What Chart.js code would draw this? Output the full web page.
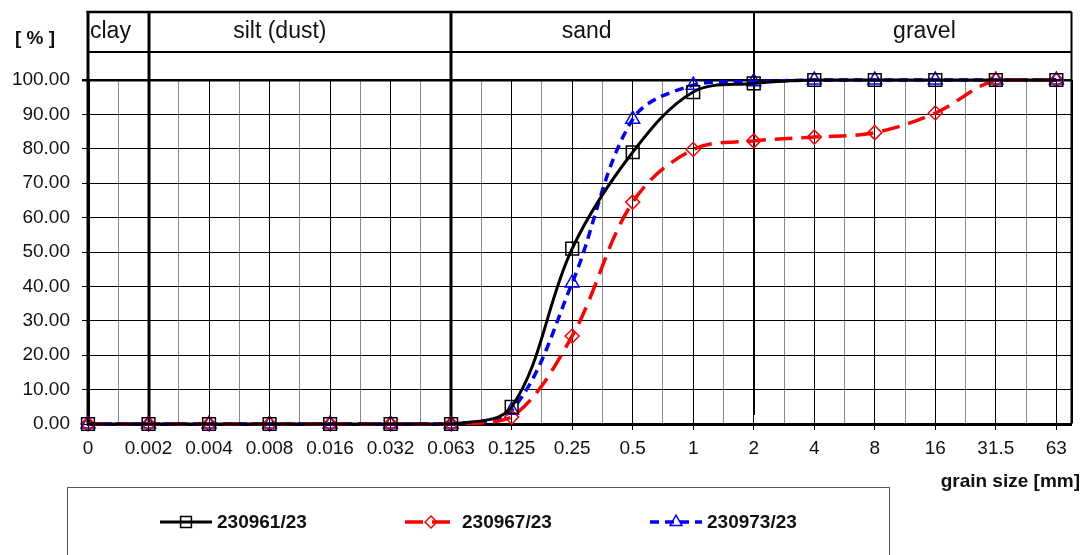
<!DOCTYPE html>
<html>
<head>
<meta charset="utf-8">
<script src="https://cdn.jsdelivr.net/npm/chart.js@4/dist/chart.umd.min.js"></script>
<style>
  html, body { margin: 0; padding: 0; background: #fff; }
</style>
</head>
<body>
<canvas id="chart" width="1082" height="555"></canvas>
<script>
// grain size classes (mm), drawn evenly spaced like the sieve sheet
const grainSizes = ['0', '0.002', '0.004', '0.008', '0.016', '0.032', '0.063', '0.125', '0.25', '0.5', '1', '2', '4', '8', '16', '31.5', '63']

// passing [%] per sample
const sample61 = [0, 0, 0, 0, 0, 0, 0, 5, 51, 79, 96.5, 99, 100, 100, 100, 100, 100]
const sample67 = [0, 0, 0, 0, 0, 0, 0, 2, 25.6, 64.5, 79.8, 82.3, 83.4, 84.7, 90.4, 100, 100]
const sample73 = [0, 0, 0, 0, 0, 0, 0, 4, 41, 88.6, 98.5, 99.5, 100, 100, 100, 100, 100]
const sampleNames = ['230961/23', '230967/23', '230973/23']

// soil fractions and the grain-size index where each starts
const fractions = ['clay', 'silt (dust)', 'sand', 'gravel']
const fractionStart = [0, 1, 6, 11]

const yTicks = [0, 10, 20, 30, 40, 50, 60, 70, 80, 90, 100]

const FONT = '"Liberation Sans", Arial, Helvetica, sans-serif'
Chart.defaults.font.family = FONT
Chart.defaults.color = '#111'

const toPoints = (values) => values.map((v, i) => ({ x: i, y: v }))

const frame = {
  id: 'frame',
  beforeDatasetsDraw (chart) {
    const { ctx, chartArea: a, scales: { x } } = chart
    const top = 12
    const mid = 52
    ctx.save()
    ctx.strokeStyle = '#000'

    // header box
    ctx.lineWidth = 2.5
    ctx.beginPath()
    ctx.moveTo(a.left - 1.5, top); ctx.lineTo(a.right, top)
    ctx.stroke()
    ctx.lineWidth = 2
    ctx.beginPath()
    ctx.moveTo(a.left, mid); ctx.lineTo(a.right, mid)
    ctx.moveTo(a.right, top); ctx.lineTo(a.right, a.bottom)
    ctx.stroke()

    // fraction separators
    fractionStart.forEach((idx, i) => {
      const px = Math.round(x.getPixelForValue(idx))
      ctx.lineWidth = i === 3 ? 2 : 3
      ctx.beginPath()
      ctx.moveTo(px, top - 1)
      ctx.lineTo(px, i === 3 ? a.bottom - 9 : a.bottom)
      ctx.stroke()
    })
    ctx.restore()
  },
  afterDraw (chart) {
    const { ctx, chartArea: a, scales: { x } } = chart
    ctx.save()
    ctx.fillStyle = '#111'
    ctx.textBaseline = 'middle'

    // fraction names
    const labelAt = [null, 3.17, 8.24, 13.82]
    ctx.font = '23px ' + FONT
    fractions.forEach((name, i) => {
      if (labelAt[i] === null) {
        ctx.textAlign = 'left'
        ctx.fillText(name, a.left + 2, 32)
      } else {
        ctx.textAlign = 'center'
        ctx.fillText(name, x.getPixelForValue(labelAt[i]), 32)
      }
    })

    // axis titles
    ctx.font = 'bold 19px ' + FONT
    ctx.textAlign = 'left'
    ctx.fillText('[ % ]', 15, 39)
    ctx.textAlign = 'right'
    ctx.fillText('grain size [mm]', 1080, 482)

    // legend box
    ctx.strokeStyle = '#555'
    ctx.lineWidth = 1
    ctx.strokeRect(67.5, 487.5, 822, 90)

    const legendX = [160, 405, 650]
    chart.data.datasets.forEach((ds, i) => {
      const x0 = legendX[i]
      const y0 = 522
      ctx.strokeStyle = ds.borderColor
      ctx.lineWidth = ds.borderWidth
      ctx.setLineDash(ds.borderDash || [])
      ctx.beginPath()
      ctx.moveTo(x0, y0); ctx.lineTo(x0 + 52, y0)
      ctx.stroke()
      ctx.setLineDash([])
      ctx.fillStyle = 'rgba(0,0,0,0)'
      ctx.lineWidth = ds.pointBorderWidth
      Chart.helpers.drawPoint(ctx, { pointStyle: ds.pointStyle, radius: ds.pointRadius * 0.85, borderWidth: ds.pointBorderWidth, rotation: 0 }, x0 + 26, y0)
      ctx.fillStyle = '#111'
      ctx.textAlign = 'left'
      ctx.fillText(ds.label, x0 + 57, y0 + 1)
    })
    ctx.restore()
  }
}

const lastIdx = grainSizes.length - 1
const xMax = lastIdx + 0.25

new Chart(document.getElementById('chart').getContext('2d'), {
  type: 'line',
  data: {
    datasets: [
      {
        label: sampleNames[0],
        data: toPoints(sample61),
        borderColor: '#000',
        borderWidth: 3,
        pointStyle: 'rect',
        pointRadius: 9,
        pointBorderColor: '#000',
        pointBackgroundColor: 'rgba(0,0,0,0)',
        pointBorderWidth: 1.5,
        tension: 0.35,
        clip: false
      },
      {
        label: sampleNames[1],
        data: toPoints(sample67),
        borderColor: '#ff0000',
        borderWidth: 3.5,
        borderDash: [18, 9],
        pointStyle: 'rectRot',
        pointRadius: 7,
        pointBorderColor: '#ff0000',
        pointBackgroundColor: 'rgba(0,0,0,0)',
        pointBorderWidth: 1.5,
        tension: 0.35,
        clip: false
      },
      {
        label: sampleNames[2],
        data: toPoints(sample73),
        borderColor: '#0000ff',
        borderWidth: 3.5,
        borderDash: [9, 6],
        pointStyle: 'triangle',
        pointRadius: 8,
        pointBorderColor: '#0000ff',
        pointBackgroundColor: 'rgba(0,0,0,0)',
        pointBorderWidth: 1.5,
        tension: 0.35,
        clip: false
      }
    ]
  },
  options: {
    responsive: false,
    animation: false,
    layout: { padding: { top: 80, right: 6, bottom: 91, left: 0 } },
    plugins: {
      legend: { display: false },
      tooltip: { enabled: false }
    },
    scales: {
      x: {
        type: 'linear',
        min: 0,
        max: xMax,
        afterBuildTicks: (s) => {
          const ticks = []
          for (let v = 0; v <= lastIdx; v += 0.5) ticks.push({ value: v })
          ticks.push({ value: xMax })
          s.ticks = ticks
        },
        afterFit: (s) => { s.height = 40 },
        grid: {
          color: (c) => Number.isInteger(c.tick.value) || c.tick.value === xMax ? '#000' : '#8a8a8a',
          tickColor: (c) => Number.isInteger(c.tick.value) ? '#000' : 'rgba(0,0,0,0)',
          tickLength: 6,
          lineWidth: (c) => c.tick.value === xMax ? 2 : 1
        },
        border: { color: '#000', width: 3 },
        ticks: {
          autoSkip: false,
          maxRotation: 0,
          padding: 7,
          font: { size: 19 },
          callback: (v) => Number.isInteger(v) ? grainSizes[v] : ''
        }
      },
      y: {
        min: 0,
        max: 100,
        afterBuildTicks: (s) => { s.ticks = yTicks.map((v) => ({ value: v })) },
        afterFit: (s) => { s.width = 88 },
        grid: {
          color: '#000',
          lineWidth: (c) => c.tick.value === 100 ? 2.5 : 1,
          tickLength: 6
        },
        border: { color: '#000', width: 3 },
        ticks: {
          padding: 12,
          font: { size: 19 },
          callback: (v) => v.toFixed(2)
        }
      }
    }
  },
  plugins: [frame]
})
</script>
</body>
</html>
